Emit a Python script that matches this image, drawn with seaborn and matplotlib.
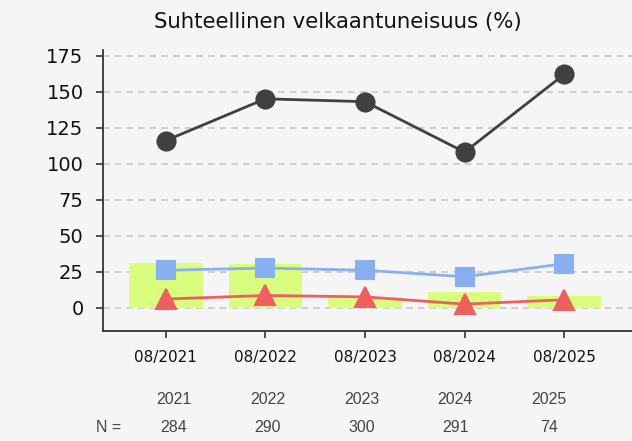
import matplotlib
matplotlib.use("Agg")
import matplotlib.pyplot as plt
import seaborn as sns

# Chart values
dates = ["08/2021", "08/2022", "08/2023", "08/2024", "08/2025"]
total = [116, 145, 143, 108, 162]
blue_vals = [26, 27.5, 26, 21.5, 30.5]
red_vals = [6, 8.5, 7.5, 2.5, 5.5]
bar_vals = [31, 30.5, 7.2, 11, 8]
years = ["2021", "2022", "2023", "2024", "2025"]
counts = ["284", "290", "300", "291", "74"]

bg = "#f5f5f5"
sns.set_theme(style="ticks", rc={
    "figure.facecolor": bg,
    "axes.facecolor": bg,
    "axes.edgecolor": "#333333",
    "axes.linewidth": 1.3,
    "xtick.color": "#333333",
    "ytick.color": "#333333",
    "xtick.labelcolor": "#111111",
    "ytick.labelcolor": "#111111",
})
plt.rcParams["font.family"] = ["DejaVu Sans"]

fig = plt.figure(figsize=(6.32, 4.41), dpi=100)
ax = fig.add_axes([0.163, 0.250, 0.837, 0.637])

ax.yaxis.grid(True, color="#c8c8c8", linestyle=(0, (4, 3)), linewidth=1.2)
ax.set_axisbelow(True)

sns.barplot(x=dates, y=bar_vals, color="#d9fd7c", saturation=1, width=0.74,
            linewidth=0, ax=ax)

sns.pointplot(x=dates, y=total, color="#404040", marker="o", markersize=13,
              linewidth=2, ax=ax)
sns.pointplot(x=dates, y=blue_vals, color="#88b0f0", marker="s", markersize=13,
              linewidth=2, ax=ax)
sns.pointplot(x=dates, y=red_vals, color="#ee5f60", marker="^", markersize=14,
              linewidth=2, ax=ax)

ax.set_xlim(-0.63, 4.68)
ax.set_ylim(-16, 179)
ax.set_yticks([0, 25, 50, 75, 100, 125, 150, 175])
ax.tick_params(axis="y", labelsize=14, length=5, width=1.2, pad=9)
ax.tick_params(axis="x", labelsize=11, length=5, width=1.2, pad=9)
ax.set_xlabel("")
ax.set_ylabel("")
sns.despine(ax=ax)
ax.xaxis.grid(False)

fig.text(337.5 / 632, 1 - 22 / 441, "Suhteellinen velkaantuneisuus (%)",
         ha="center", va="center", fontsize=15.3, color="#111111")

# year and N rows under the axis
for i, (yr, n) in enumerate(zip(years, counts)):
    xp = (174 + 93.8 * i) / 632
    fig.text(xp, 1 - 400 / 441, yr, ha="center", va="center", fontsize=11.5,
             color="#444444", family="Liberation Sans")
    fig.text(xp, 1 - 427 / 441, n, ha="center", va="center", fontsize=11.5,
             color="#444444", family="Liberation Sans")
fig.text(109 / 632, 1 - 427 / 441, "N =", ha="center", va="center", fontsize=11.5,
         color="#444444", family="Liberation Sans")

fig.savefig("out.png", dpi=100, facecolor=bg)
